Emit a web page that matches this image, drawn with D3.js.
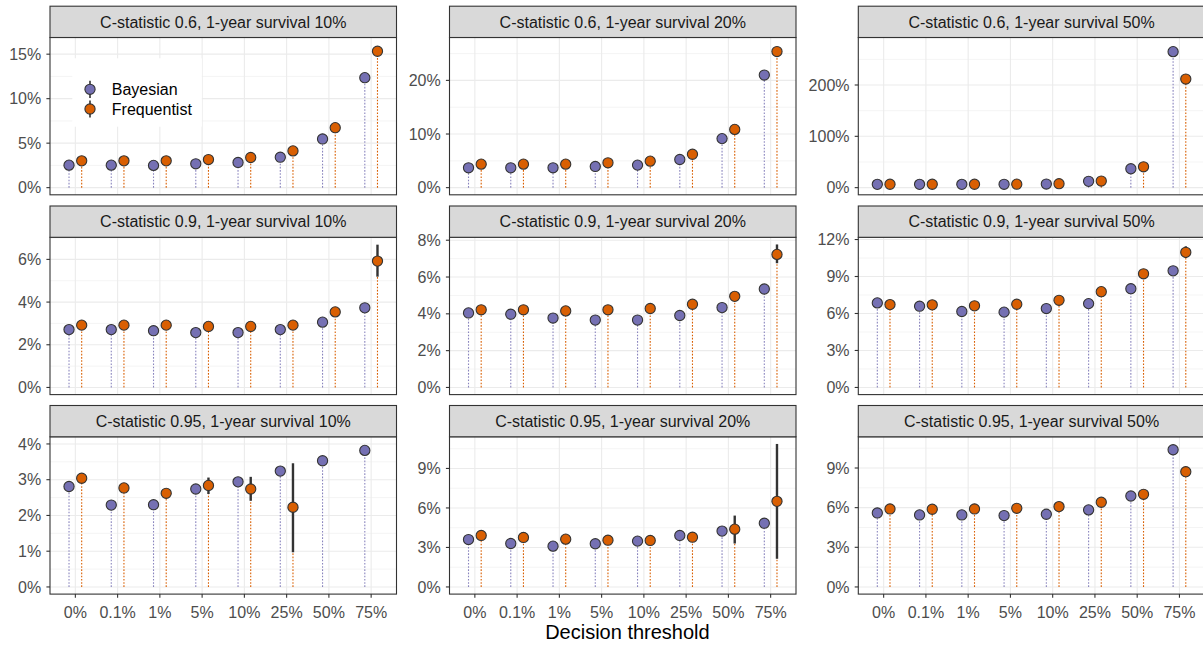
<!DOCTYPE html>
<html>
<head>
<meta charset="utf-8">
<script src="https://cdn.jsdelivr.net/npm/d3@7"></script>
<style>
  html, body { margin: 0; padding: 0; background: #fff; }
  svg { display: block; font-family: "Liberation Sans", Arial, Helvetica, sans-serif; }
</style>
</head>
<body>
<svg id="chart" width="1203" height="646"></svg>
<script>
// Decision thresholds on the x axis
const categories = ["0%", "0.1%", "1%", "5%", "10%", "25%", "50%", "75%"];

// Facet titles, row by row
const panelTitles = [
  "C-statistic 0.6, 1-year survival 10%",
  "C-statistic 0.6, 1-year survival 20%",
  "C-statistic 0.6, 1-year survival 50%",
  "C-statistic 0.9, 1-year survival 10%",
  "C-statistic 0.9, 1-year survival 20%",
  "C-statistic 0.9, 1-year survival 50%",
  "C-statistic 0.95, 1-year survival 10%",
  "C-statistic 0.95, 1-year survival 20%",
  "C-statistic 0.95, 1-year survival 50%"
];

const seriesNames = ["Bayesian", "Frequentist"];

// Estimates (%) per facet, one value per threshold
const bayesian = [
  [2.53, 2.53, 2.50, 2.68, 2.83, 3.42, 5.47, 12.36],
  [3.70, 3.70, 3.70, 3.95, 4.20, 5.25, 9.14, 20.99],
  [6.4, 6.4, 6.4, 6.5, 7.0, 12.3, 36.8, 265],
  [2.71, 2.71, 2.66, 2.57, 2.57, 2.71, 3.06, 3.73],
  [4.05, 3.98, 3.77, 3.66, 3.66, 3.91, 4.34, 5.35],
  [6.86, 6.59, 6.16, 6.11, 6.40, 6.80, 8.01, 9.46],
  [2.81, 2.29, 2.30, 2.74, 2.94, 3.24, 3.53, 3.82],
  [3.60, 3.30, 3.10, 3.28, 3.48, 3.91, 4.24, 4.84],
  [5.60, 5.45, 5.45, 5.40, 5.50, 5.83, 6.88, 10.38]
];

const frequentist = [
  [3.01, 3.01, 3.01, 3.16, 3.39, 4.13, 6.74, 15.33],
  [4.38, 4.38, 4.38, 4.63, 4.94, 6.23, 10.86, 25.37],
  [6.6, 6.6, 6.6, 6.8, 7.7, 12.9, 40.6, 211.6],
  [2.92, 2.92, 2.92, 2.86, 2.86, 2.92, 3.54, 5.92],
  [4.22, 4.22, 4.16, 4.22, 4.29, 4.52, 4.95, 7.23],
  [6.72, 6.70, 6.62, 6.75, 7.07, 7.77, 9.22, 10.96],
  [3.04, 2.77, 2.62, 2.84, 2.74, 2.23, null, null],
  [3.91, 3.76, 3.63, 3.55, 3.53, 3.78, 4.39, 6.50],
  [5.90, 5.88, 5.90, 5.95, 6.08, 6.41, 7.01, 8.72]
];

// Frequentist interval bounds (%) where they extend past the marker
const frequentistLower = [
  [null, null, null, null, null, null, null, null],
  [null, null, null, null, null, null, null, null],
  [null, null, null, null, null, null, null, null],
  [null, null, null, null, null, null, null, 5.19],
  [null, null, null, null, null, null, null, 6.75],
  [null, null, null, null, null, null, null, 10.50],
  [null, null, null, 2.60, 2.41, 0.97, null, null],
  [null, null, null, null, null, null, 3.30, 2.14],
  [null, null, null, null, null, null, null, null]
];
const frequentistUpper = [
  [null, null, null, null, null, null, null, null],
  [null, null, null, null, null, null, null, null],
  [null, null, null, null, null, null, null, null],
  [null, null, null, null, null, null, null, 6.69],
  [null, null, null, null, null, null, null, 7.77],
  [null, null, null, null, null, null, null, 11.45],
  [null, null, null, 3.06, 3.08, 3.46, null, null],
  [null, null, null, null, null, null, 5.42, 10.86],
  [null, null, null, null, null, null, null, null]
];

// Upper end of the data range per facet (includes interval bounds)
const yMax = [16.07, 26.66, 278.6, 6.70, 7.77, 11.6, 4.0, 10.86, 10.82];

// Y tick labels per facet (%)
const yTicks = [
  [0, 5, 10, 15],
  [0, 10, 20],
  [0, 100, 200],
  [0, 2, 4, 6],
  [0, 2, 4, 6, 8],
  [0, 3, 6, 9, 12],
  [0, 1, 2, 3, 4],
  [0, 3, 6, 9],
  [0, 3, 6, 9]
];

const xTitle = "Decision threshold";

// ---- layout & style ----
const colors = { Bayesian: "#7570B3", Frequentist: "#D95F02" };
const colLeft = [50, 449.5, 858.3];
const rowTop = [37.5, 237.3, 436.8];
const panelW = 346.5, panelH = 157.3, stripH = 31.3;
const gridCol = "#ebebeb", borderCol = "#333333", tickText = "#4d4d4d";
const fontSize = 16;

const svg = d3.select("#chart");

const x = d3.scalePoint().domain(categories).range([0, panelW]).padding(0.6);
const dodge = x.step() * 0.15;

panelTitles.forEach((title, p) => {
  const r = Math.floor(p / 3), c = p % 3;
  const left = colLeft[c], top = rowTop[r];
  const M = yMax[p];
  const y = d3.scaleLinear().domain([-0.05 * M, 1.05 * M]).range([panelH, 0]);

  const g = svg.append("g").attr("transform", `translate(${left},${top})`);

  // panel background
  g.append("rect").attr("width", panelW).attr("height", panelH).attr("fill", "#fff");

  // minor y gridlines
  const ticks = yTicks[p];
  const step = ticks[1] - ticks[0];
  const minors = [];
  for (let v = ticks[0] - step / 2; v <= 1.05 * M; v += step) {
    if (v >= -0.05 * M) minors.push(v);
  }
  g.append("g").selectAll("line").data(minors).join("line")
    .attr("x1", 0).attr("x2", panelW)
    .attr("y1", d => y(d)).attr("y2", d => y(d))
    .attr("stroke", gridCol).attr("stroke-width", 0.55);

  // major y gridlines
  g.append("g").selectAll("line").data(ticks).join("line")
    .attr("x1", 0).attr("x2", panelW)
    .attr("y1", d => y(d)).attr("y2", d => y(d))
    .attr("stroke", gridCol).attr("stroke-width", 1.1);

  // major x gridlines
  g.append("g").selectAll("line").data(categories).join("line")
    .attr("x1", d => x(d)).attr("x2", d => x(d))
    .attr("y1", 0).attr("y2", panelH)
    .attr("stroke", gridCol).attr("stroke-width", 1.1);

  const rows = [];
  categories.forEach((cat, i) => {
    rows.push({ s: "Bayesian", cat, v: bayesian[p][i], lo: null, hi: null, off: -dodge });
    rows.push({ s: "Frequentist", cat, v: frequentist[p][i],
      lo: frequentistLower[p][i], hi: frequentistUpper[p][i], off: dodge });
  });
  const valid = rows.filter(d => d.v != null);

  // dotted stems from zero
  g.append("g").selectAll("line").data(valid).join("line")
    .attr("x1", d => x(d.cat) + d.off).attr("x2", d => x(d.cat) + d.off)
    .attr("y1", y(0)).attr("y2", d => y(d.v))
    .attr("stroke", d => colors[d.s])
    .attr("stroke-opacity", d => d.s === "Bayesian" ? 0.85 : 1)
    .attr("stroke-width", 1.1)
    .attr("stroke-dasharray", "1.6,1.6");

  // intervals
  g.append("g").selectAll("line").data(valid.filter(d => d.lo != null)).join("line")
    .attr("x1", d => x(d.cat) + d.off).attr("x2", d => x(d.cat) + d.off)
    .attr("y1", d => y(d.lo)).attr("y2", d => y(d.hi))
    .attr("stroke", "#333").attr("stroke-width", 2.4);

  // points
  g.append("g").selectAll("circle").data(valid).join("circle")
    .attr("cx", d => x(d.cat) + d.off).attr("cy", d => y(d.v))
    .attr("r", 5.1)
    .attr("fill", d => colors[d.s])
    .attr("stroke", "#333").attr("stroke-width", 1.1);

  // panel border
  g.append("rect").attr("width", panelW).attr("height", panelH)
    .attr("fill", "none").attr("stroke", borderCol).attr("stroke-width", 1.1);

  // strip
  g.append("rect").attr("x", 0).attr("y", -stripH).attr("width", panelW).attr("height", stripH)
    .attr("fill", "#d9d9d9").attr("stroke", borderCol).attr("stroke-width", 1.1);
  g.append("text").attr("x", panelW / 2).attr("y", -stripH / 2 + 5.7)
    .attr("text-anchor", "middle").attr("font-size", fontSize).attr("fill", "#1a1a1a")
    .text(title);

  // y axis
  const yAxis = g.append("g");
  yAxis.selectAll("line").data(ticks).join("line")
    .attr("x1", -3.6).attr("x2", 0)
    .attr("y1", d => y(d)).attr("y2", d => y(d))
    .attr("stroke", borderCol).attr("stroke-width", 1.1);
  yAxis.selectAll("text").data(ticks).join("text")
    .attr("x", -8.8).attr("y", d => y(d) + 5.6)
    .attr("text-anchor", "end").attr("font-size", fontSize).attr("fill", tickText)
    .text(d => d + "%");

  // x axis on bottom row only
  if (r === 2) {
    const xAxis = g.append("g").attr("transform", `translate(0,${panelH})`);
    xAxis.selectAll("line").data(categories).join("line")
      .attr("x1", d => x(d)).attr("x2", d => x(d))
      .attr("y1", 0).attr("y2", 3.6)
      .attr("stroke", borderCol).attr("stroke-width", 1.1);
    xAxis.selectAll("text").data(categories).join("text")
      .attr("x", d => x(d)).attr("y", 23.8)
      .attr("text-anchor", "middle").attr("font-size", fontSize).attr("fill", tickText)
      .text(d => d);
  }

  // legend inside the first facet
  if (p === 0) {
    const lg = g.append("g").attr("transform", `translate(${72.3 - left},${58.3 - top})`);
    lg.append("rect").attr("width", 129.5).attr("height", 68.4).attr("fill", "#fff");
    seriesNames.forEach((s, i) => {
      const cy = 31 + i * 19.7, cx = 17.7;
      lg.append("line").attr("x1", cx).attr("x2", cx)
        .attr("y1", cy - 8.6).attr("y2", cy + 8.6)
        .attr("stroke", "#333").attr("stroke-width", 1.6);
      lg.append("circle").attr("cx", cx).attr("cy", cy).attr("r", 5.1)
        .attr("fill", colors[s]).attr("stroke", "#333").attr("stroke-width", 1.1);
      lg.append("text").attr("x", 39.5).attr("y", cy + 5.7)
        .attr("font-size", fontSize).attr("fill", "#000").text(s);
    });
  }
});

// x axis title
svg.append("text")
  .attr("x", (colLeft[0] + colLeft[2] + panelW) / 2)
  .attr("y", 638.7)
  .attr("text-anchor", "middle").attr("font-size", 20).attr("fill", "#000")
  .text(xTitle);
</script>
</body>
</html>
